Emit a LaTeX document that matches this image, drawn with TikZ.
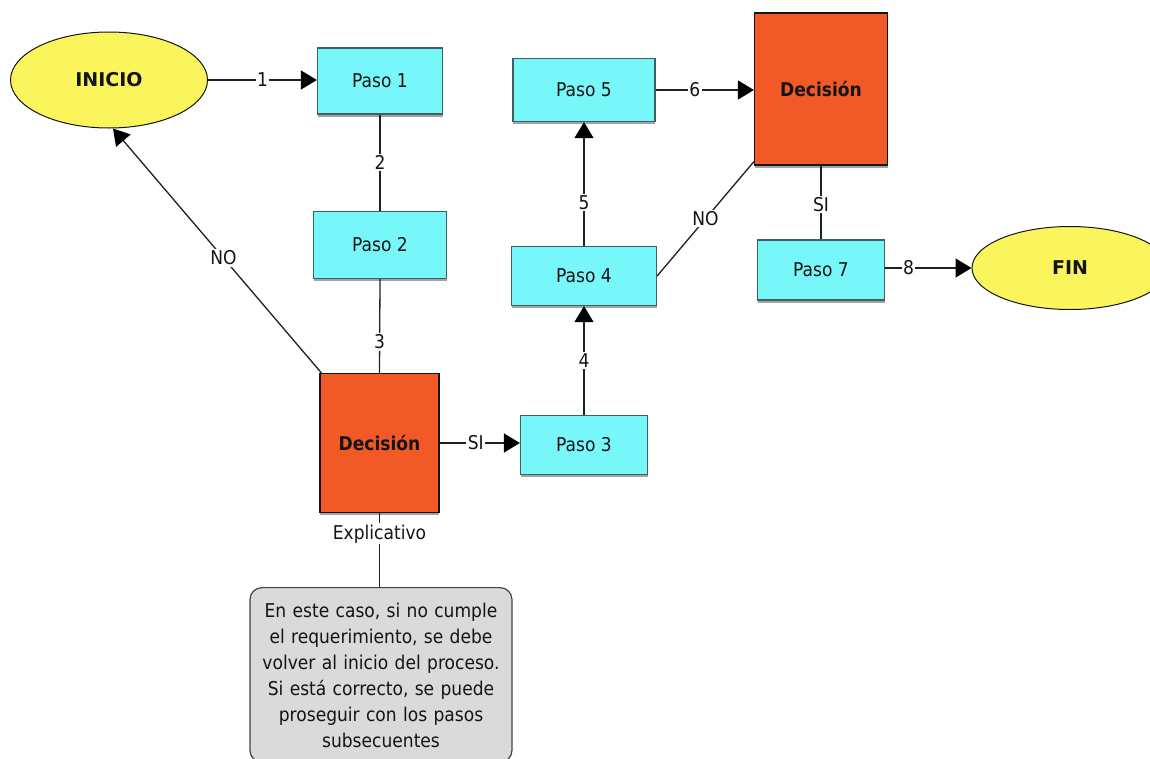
\documentclass[tikz,border=0pt]{standalone}
\usepackage{fontspec}
\setmainfont{DejaVu Sans}[FakeStretch=0.9]
\newfontfamily\termfont{DejaVu Sans}
\usetikzlibrary{shapes.geometric,arrows.meta,shadows}
\definecolor{pasofill}{HTML}{78F7FA}
\definecolor{pasoedge}{HTML}{3F5F60}
\definecolor{decfill}{HTML}{F15A27}
\definecolor{termfill}{HTML}{FAF55C}
\definecolor{notefill}{HTML}{DADADA}
\definecolor{ink}{HTML}{141414}
\definecolor{wire}{HTML}{202020}
\tikzset{
  txt/.style={font=\fontsize{19}{23}\selectfont, text=ink},
  boxshadow/.style={drop shadow={shadow xshift=0pt, shadow yshift=-2.5pt, fill=gray!80, opacity=0.9}},
  pasobox/.style={txt, draw=pasoedge, fill=pasofill, line width=1.2pt, inner sep=0pt, boxshadow},
  decbox/.style={txt, font=\fontsize{19}{23}\selectfont\bfseries, draw=ink, fill=decfill, line width=1.2pt, inner sep=0pt, boxshadow},
  termnode/.style={txt, font=\termfont\fontsize{19}{23}\selectfont\bfseries, ellipse, draw=ink, fill=termfill, line width=1pt, inner sep=0pt},
  notebox/.style={font=\fontsize{19}{26}\selectfont, text=ink, draw=ink!80, fill=notefill, line width=1.2pt, rounded corners=12pt, align=center, text width=252pt, inner xsep=5pt, inner ysep=15pt},
  wireline/.style={draw=wire, line width=1.3pt},
  arrowline/.style={wireline, -{Triangle[length=16pt,width=19pt,color=black]}},
  lbl/.style={txt, fill=white, inner sep=1.5pt},
}
\begin{document}
\begin{tikzpicture}[x=1pt,y=-1pt]
\clip (0,0) rectangle (1150,758);
\fill[white] (0,0) rectangle (1150,758);

% nodes
\node[termnode, minimum width=197pt, minimum height=96pt] (inicio) at (109,80) {INICIO};
\node[pasobox, minimum width=125pt, minimum height=66pt] (p1) at (380,81) {Paso 1};
\node[pasobox, minimum width=133pt, minimum height=67pt] (p2) at (380,245) {Paso 2};
\node[decbox, minimum width=119pt, minimum height=139pt] (d1) at (379.5,443) {Decisión};
\node[pasobox, minimum width=127pt, minimum height=59pt] (p3) at (584,445) {Paso 3};
\node[pasobox, minimum width=145pt, minimum height=59pt] (p4) at (584,276) {Paso 4};
\node[pasobox, minimum width=142pt, minimum height=63pt] (p5) at (584,90) {Paso 5};
\node[decbox, minimum width=133pt, minimum height=152pt] (d2) at (821,89) {Decisión};
\node[pasobox, minimum width=127pt, minimum height=60pt] (p7) at (821,270) {Paso 7};
\node[termnode, minimum width=196pt, minimum height=83pt] (fin) at (1070,268) {FIN};
\node[notebox, anchor=north] (nota) at (381,587) {En este caso, si no cumple\\el requerimiento, se debe\\volver al inicio del proceso.\\Si está correcto, se puede\\proseguir con los pasos\\subsecuentes};

% connectors
\draw[arrowline] (inicio.east) -- node[lbl, pos=0.5] {1} (inicio.east -| p1.west);
\draw[wireline] (p1.south) -- node[lbl, pos=0.5] {2} (p2.north);
\draw[wireline] (p2.south) -- node[lbl, pos=0.67] {3} (d1.north);
\draw[arrowline] ([xshift=2pt]d1.north west) -- node[lbl, pos=0.47] {NO} ([xshift=4pt]inicio.south);
\draw[arrowline] (d1.east) -- node[lbl, pos=0.45] {SI} (d1.east -| p3.west);
\draw[arrowline] (p3.north) -- node[lbl, pos=0.5] {4} (p4.south);
\draw[arrowline] (p4.north) -- node[lbl, pos=0.35] {5} (p5.south);
\draw[arrowline] (p5.east) -- node[lbl, pos=0.4] {6} (p5.east -| d2.west);
\draw[wireline] ([yshift=4pt]d2.south west) -- node[lbl, pos=0.5] {NO} (p4.east);
\draw[wireline] (d2.south) -- node[lbl, pos=0.53] {SI} (p7.north);
\draw[arrowline] (fin.west -| p7.east) -- node[lbl, pos=0.27] {8} (fin.west);
\draw[wireline] (d1.south) -- node[lbl, pos=0.28] {Explicativo} (d1.south |- nota.north);
\end{tikzpicture}
\end{document}
